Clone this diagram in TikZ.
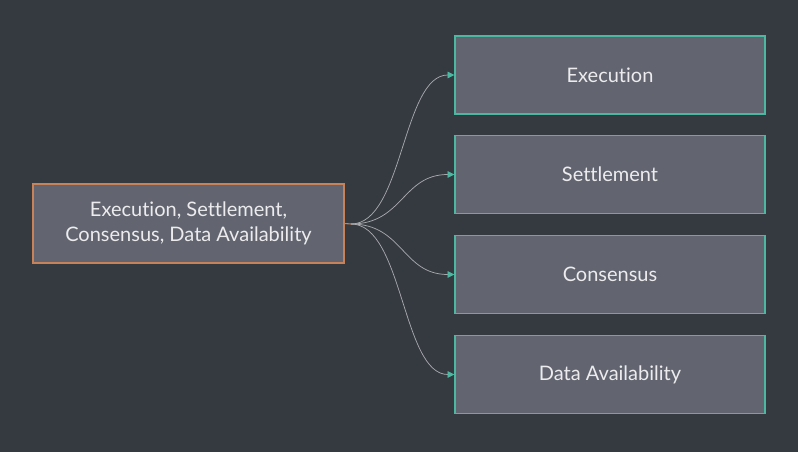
\documentclass[tikz,border=0pt]{standalone}
\usepackage{fontspec}
\setmainfont{Lato}[Ligatures=NoCommon]
\usetikzlibrary{arrows.meta}
\definecolor{bg}{HTML}{353A41}
\definecolor{boxfill}{HTML}{62656F}
\definecolor{orangeb}{HTML}{C8825A}
\definecolor{tealb}{HTML}{4DB8A2}
\definecolor{linec}{HTML}{A7A9AE}
\definecolor{txt}{HTML}{ECECEF}
\tikzset{
  srcbox/.style={draw=orangeb, line width=1.1pt, fill=boxfill, minimum width=233.25pt, minimum height=59.25pt, inner sep=0pt, text=txt, font=\fontsize{15}{19}\selectfont, align=center},
  dstbox/.style={draw=tealb, line width=1.1pt, fill=boxfill, minimum width=232.5pt, minimum height=58.5pt, inner sep=0pt, text=txt, font=\fontsize{15}{18}\selectfont},
  conn/.style={draw=linec, line width=0.55pt, -{Triangle[length=5pt,width=5pt,color=tealb]}}
}
\begin{document}
\begin{tikzpicture}[x=0.75pt,y=-0.75pt]
\fill[bg] (0,0) rectangle (798,452);
\useasboundingbox (0,0) rectangle (798,452);
\node[srcbox] (src) at (188.5,223.5) {Execution, Settlement,\\Consensus, Data Availability};
\node[dstbox] (e) at (610,75) {Execution};
\node[dstbox] (s) at (610,174.5) {Settlement};
\node[dstbox] (c) at (610,274.5) {Consensus};
\node[dstbox] (d) at (610,374.5) {Data Availability};
\coordinate (o) at (351,224);
\draw[orangeb, line width=0.8pt] (src.east) -- (o);
\foreach \t in {e,s,c,d}{
  \draw[conn] (o) .. controls ([xshift=39pt]o) and ([xshift=-39pt]\t.west) .. (\t.west);
}
\end{tikzpicture}
\end{document}
